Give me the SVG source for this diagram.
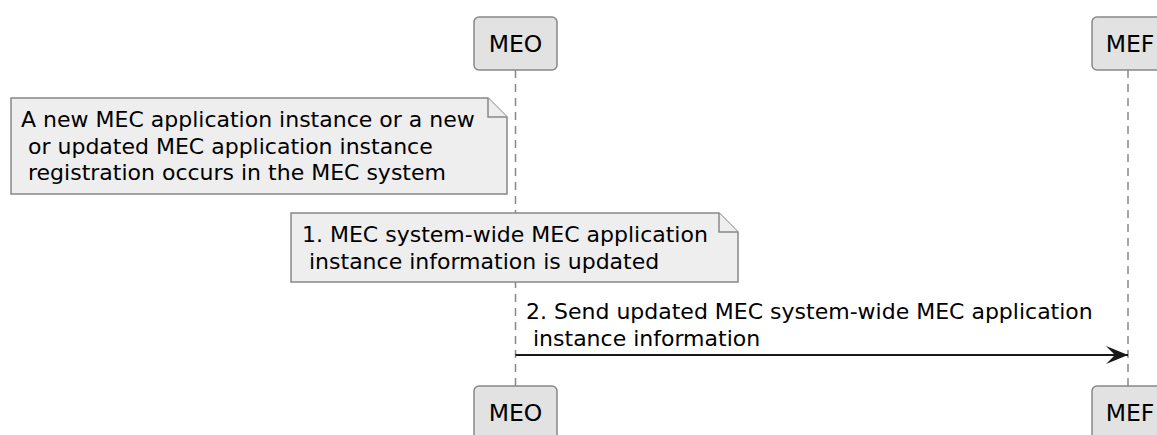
<svg xmlns="http://www.w3.org/2000/svg" width="1157" height="435" viewBox="0 0 1157 435">
<style>
text{font-family:"DejaVu Sans","Liberation Sans",sans-serif;fill:#000;white-space:pre}
.part rect{fill:#E2E2E2;stroke:#888;stroke-width:1.5}
.part text{font-size:23.5px;text-anchor:middle}
.note path{fill:#EEEEEE;stroke:#888;stroke-width:1.5}
.note text,.msg text{font-size:22px}
.life{stroke:#888;stroke-width:1.5;stroke-dasharray:8,6;fill:none}
</style>
<defs>
<marker id="ah" markerUnits="userSpaceOnUse" markerWidth="24" markerHeight="20" refX="22" refY="9" orient="auto">
<polygon points="22,9 0,0 9,9 0,18" fill="#181818"/>
</marker>
</defs>
<rect width="1157" height="435" fill="#fff"/>
<g id="lifelines">
<line class="life" x1="515.5" y1="70" x2="515.5" y2="386"/>
<line class="life" x1="1128" y1="70" x2="1128" y2="386"/>
</g>
<g id="MEO" class="part">
<rect x="474" y="17" width="83" height="53" rx="5"/>
<text x="515.5" y="52">MEO</text>
</g>
<g id="MEF" class="part">
<rect x="1092" y="17" width="76" height="53" rx="5"/>
<text x="1130" y="52">MEF</text>
</g>
<g id="MEO_bottom" class="part">
<rect x="474" y="386" width="83" height="60" rx="5"/>
<text x="515.5" y="421">MEO</text>
</g>
<g id="MEF_bottom" class="part">
<rect x="1092" y="386" width="76" height="60" rx="5"/>
<text x="1130" y="421">MEF</text>
</g>
<g id="note1" class="note">
<path d="M11,98 H488 L507,117 V194 H11 Z"/>
<path d="M488,98 V117 H507" fill="none"/>
<text x="21" y="127">A new MEC application instance or a new</text>
<text x="21" y="153.5"> or updated MEC application instance</text>
<text x="21" y="180"> registration occurs in the MEC system</text>
</g>
<g id="note2" class="note">
<path d="M291,213 H719 L738,232 V282 H291 Z"/>
<path d="M719,213 V232 H738" fill="none"/>
<text x="302" y="242">1. MEC system-wide MEC application</text>
<text x="302" y="268.5"> instance information is updated</text>
</g>
<g id="connectors" class="msg">
<line x1="515.5" y1="355" x2="1128" y2="355" stroke="#181818" stroke-width="2" marker-end="url(#ah)"/>
<text x="526" y="319">2. Send updated MEC system-wide MEC application</text>
<text x="526" y="345.5"> instance information</text>
</g>
</svg>
